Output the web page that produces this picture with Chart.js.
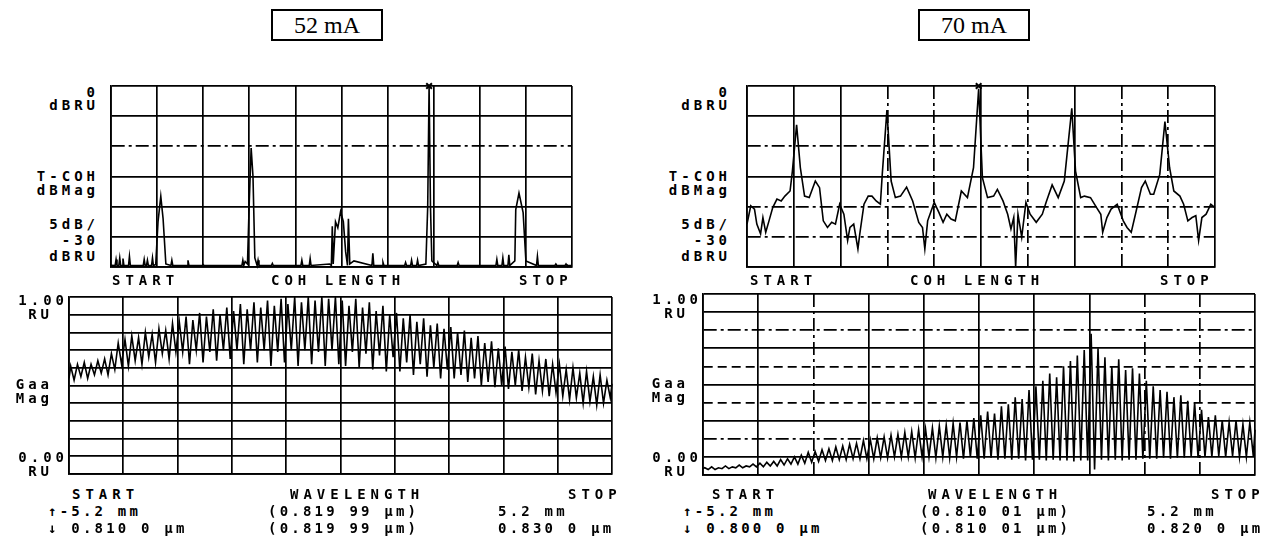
<!DOCTYPE html>
<html lang="en">
<head>
<meta charset="UTF-8">
<title>Coherence length and gain spectra, 52 mA / 70 mA</title>
<script src="https://cdn.jsdelivr.net/npm/chart.js"></script>
<style>
    body { margin: 0; background: #fff; }
    #page { position: relative; width: 1275px; height: 544px; overflow: hidden; color: #000;
            font-family: "DejaVu Sans Mono", monospace; }
    .panel { position: absolute; }
    .t { position: absolute; font-size: 14px; line-height: 14px; letter-spacing: 5px; white-space: pre; font-weight: bold; }
    .s { letter-spacing: 4px; }
    .row { letter-spacing: 3.2px; }
    .title { position: absolute; border: 2px solid #000; font-family: "Liberation Serif", serif;
             font-size: 24px; text-align: center; box-sizing: border-box; }
</style>
</head>
<body>
<div id="page">
    <div class="title" style="left:271px;top:9px;width:112px;height:32px;line-height:28px">52 mA</div>
    <div class="title" style="left:918px;top:9px;width:112px;height:32px;line-height:28px">70 mA</div>

    <!-- 52 mA, coherence -->
    <div class="panel" style="left:103px;top:78px"><canvas id="tl" width="477" height="197"></canvas></div>
    <div class="t s" style="right:1176px;top:85px">0</div>
    <div class="t s" style="right:1176px;top:98px">dBRU</div>
    <div class="t s" style="right:1176px;top:169px">T-COH</div>
    <div class="t s" style="right:1176px;top:183px">dBMag</div>
    <div class="t s" style="right:1176px;top:217px">5dB/</div>
    <div class="t s" style="right:1176px;top:233px">-30</div>
    <div class="t s" style="right:1176px;top:249px">dBRU</div>
    <div class="t" style="left:112px;top:273px">START</div>
    <div class="t" style="left:271px;top:273px">COH LENGTH</div>
    <div class="t" style="left:519px;top:273px">STOP</div>

    <!-- 52 mA, spectrum -->
    <div class="panel" style="left:61px;top:289px"><canvas id="bl" width="559" height="193"></canvas></div>
    <div class="t s" style="right:1207px;top:293px">1.00</div>
    <div class="t s" style="right:1222px;top:307px">RU</div>
    <div class="t s" style="right:1222px;top:377px">Gaa</div>
    <div class="t s" style="right:1222px;top:391px">Mag</div>
    <div class="t s" style="right:1207px;top:450px">0.00</div>
    <div class="t s" style="right:1222px;top:464px">RU</div>
    <div class="t" style="left:72px;top:487px">START</div>
    <div class="t" style="left:290px;top:487px">WAVELENGTH</div>
    <div class="t" style="left:568px;top:487px">STOP</div>
    <div class="t row" style="left:48px;top:504px">↑-5.2 mm</div>
    <div class="t row" style="left:268px;top:504px">(0.819 99 μm)</div>
    <div class="t row" style="left:498px;top:504px">5.2 mm</div>
    <div class="t row" style="left:48px;top:521px">↓ 0.810 0 μm</div>
    <div class="t row" style="left:268px;top:521px">(0.819 99 μm)</div>
    <div class="t row" style="left:498px;top:521px">0.830 0 μm</div>

    <!-- 70 mA, coherence -->
    <div class="panel" style="left:739px;top:78px"><canvas id="tr" width="484" height="197"></canvas></div>
    <div class="t s" style="right:544px;top:85px">0</div>
    <div class="t s" style="right:544px;top:98px">dBRU</div>
    <div class="t s" style="right:544px;top:169px">T-COH</div>
    <div class="t s" style="right:544px;top:183px">dBMag</div>
    <div class="t s" style="right:544px;top:217px">5dB/</div>
    <div class="t s" style="right:544px;top:233px">-30</div>
    <div class="t s" style="right:544px;top:249px">dBRU</div>
    <div class="t" style="left:750px;top:273px">START</div>
    <div class="t" style="left:910px;top:273px">COH LENGTH</div>
    <div class="t" style="left:1160px;top:273px">STOP</div>

    <!-- 70 mA, spectrum -->
    <div class="panel" style="left:695px;top:286px"><canvas id="br" width="568" height="197"></canvas></div>
    <div class="t s" style="right:573px;top:292px">1.00</div>
    <div class="t s" style="right:586px;top:306px">RU</div>
    <div class="t s" style="right:586px;top:376px">Gaa</div>
    <div class="t s" style="right:586px;top:390px">Mag</div>
    <div class="t s" style="right:573px;top:450px">0.00</div>
    <div class="t s" style="right:586px;top:464px">RU</div>
    <div class="t" style="left:712px;top:487px">START</div>
    <div class="t" style="left:928px;top:487px">WAVELENGTH</div>
    <div class="t" style="left:1211px;top:487px">STOP</div>
    <div class="t row" style="left:683px;top:504px">↑-5.2 mm</div>
    <div class="t row" style="left:920px;top:504px">(0.810 01 μm)</div>
    <div class="t row" style="left:1147px;top:504px">5.2 mm</div>
    <div class="t row" style="left:683px;top:521px">↓ 0.800 0 μm</div>
    <div class="t row" style="left:920px;top:521px">(0.810 01 μm)</div>
    <div class="t row" style="left:1147px;top:521px">0.820 0 μm</div>
</div>

<script>
    // all values in screen divisions: x 0..10, y 0..6 (coherence) or 0..10 (spectrum)

    // 52 mA coherence trace
    const tlX = [0, 0.09, 0.11, 0.13, 0.17, 0.19, 0.21, 0.24, 0.26, 0.28, 0.38, 0.40, 0.42, 0.70, 0.72, 0.74, 0.77, 0.79, 0.81,
                 0.88, 0.90, 0.92, 0.97, 1.02, 1.08, 1.13, 1.19, 1.30, 1.32, 1.34, 1.65, 1.67, 1.69, 1.98, 2.00, 2.02,
                 2.84, 2.86, 2.88, 2.91, 2.96, 3.00, 3.04, 3.08, 3.12, 3.17, 3.19, 3.21, 3.48, 3.50, 3.52, 4.12, 4.14, 4.16,
                 4.30, 4.32, 4.34, 4.74, 4.78, 4.80, 4.82, 4.87, 4.92, 4.98, 5.04, 5.09, 5.13, 5.15, 5.18, 5.27,
                 5.66, 5.68, 5.70, 5.88, 5.90, 5.92, 6.37, 6.39, 6.41, 6.50, 6.52, 6.54, 6.63, 6.65, 6.67,
                 6.83, 6.87, 6.90, 6.93, 6.96, 7.07, 7.09, 7.11, 7.51, 7.53, 7.55, 8.35, 8.37, 8.39, 8.48, 8.50, 8.52,
                 8.61, 8.63, 8.65, 8.76, 8.78, 8.85, 8.94, 9.00, 9.23, 9.25, 9.27, 9.63, 9.65, 9.67, 9.85, 9.87, 9.89, 10];
    const tlY = [0.06, 0.05, 0.25, 0.05, 0.05, 0.30, 0.05, 0.05, 0.28, 0.05, 0.05, 0.35, 0.05, 0.05, 0.25, 0.05, 0.05, 0.22, 0.05,
                 0.05, 0.30, 0.05, 0.08, 1.50, 2.34, 1.60, 0.10, 0.05, 0.22, 0.05, 0.05, 0.22, 0.05, 0.05, 0.08, 0.05,
                 0.05, 0.22, 0.05, 0.18, 0.10, 2.20, 3.94, 3.00, 0.30, 0.05, 0.22, 0.05, 0.05, 0.12, 0.05, 0.05, 0.22, 0.05,
                 0.05, 0.28, 0.05, 0.10, 0.05, 1.35, 0.10, 1.50, 1.30, 1.84, 1.50, 0.50, 0.05, 1.60, 0.10, 0.20,
                 0.05, 0.45, 0.05, 0.05, 0.15, 0.05, 0.05, 0.15, 0.05, 0.05, 0.22, 0.05, 0.05, 0.22, 0.05,
                 0.10, 2.00, 6.00, 2.00, 0.20, 0.05, 0.15, 0.05, 0.05, 0.15, 0.05, 0.05, 0.25, 0.05, 0.05, 0.30, 0.05,
                 0.05, 0.40, 0.05, 0.20, 1.90, 2.45, 1.80, 0.20, 0.05, 0.35, 0.05, 0.05, 0.10, 0.05, 0.05, 0.10, 0.05, 0.05];
    const tlMarker = [6.90, 6];

    // 70 mA coherence trace
    const trX = [0.00, 0.08, 0.16, 0.21, 0.29, 0.34, 0.40, 0.47, 0.55, 0.64, 0.73, 0.81, 0.92, 0.97, 1.06, 1.14, 1.23, 1.33,
                 1.46, 1.55, 1.63, 1.72, 1.81, 1.89, 1.98, 2.07, 2.15, 2.20, 2.28, 2.37, 2.41, 2.50, 2.59, 2.67, 2.76,
                 2.85, 2.89, 2.99, 3.08, 3.17, 3.28, 3.41, 3.54, 3.67, 3.75, 3.80, 3.86, 4.00, 4.10, 4.19, 4.27, 4.36,
                 4.45, 4.58, 4.71, 4.84, 4.95, 5.03, 5.14, 5.27, 5.35, 5.47, 5.57, 5.64, 5.70, 5.74, 5.79, 5.87, 5.96,
                 6.05, 6.18, 6.31, 6.39, 6.52, 6.65, 6.78, 6.94, 7.02, 7.13, 7.21, 7.34, 7.47, 7.56, 7.60, 7.69, 7.78,
                 7.91, 8.04, 8.12, 8.21, 8.30, 8.43, 8.51, 8.62, 8.69, 8.82, 8.93, 9.03, 9.12, 9.25, 9.33, 9.42, 9.51,
                 9.59, 9.65, 9.72, 9.81, 9.91, 10.0];
    const trY = [1.42, 2.03, 1.92, 1.42, 1.10, 1.64, 1.15, 1.53, 1.97, 2.25, 2.19, 2.35, 2.52, 3.18, 4.71, 3.29, 2.35, 2.30,
                 2.85, 2.63, 1.53, 1.31, 1.48, 1.42, 2.08, 1.75, 0.88, 1.31, 1.42, 0.60, 1.10, 2.08, 2.35, 2.35, 2.19,
                 2.08, 3.07, 5.20, 2.85, 2.30, 2.35, 2.65, 2.19, 1.48, 1.31, 0.60, 1.53, 2.14, 1.81, 1.48, 1.75, 1.59,
                 1.53, 2.52, 2.30, 3.29, 5.91, 2.96, 2.30, 2.35, 2.57, 2.19, 1.75, 1.26, 1.64, 0.00, 1.75, 0.99, 2.14,
                 1.75, 1.48, 1.75, 2.14, 2.72, 2.30, 2.85, 5.26, 3.18, 2.30, 2.35, 2.30, 1.97, 1.75, 1.15, 1.64, 1.92,
                 2.08, 1.53, 1.31, 1.15, 1.75, 2.63, 2.85, 2.41, 2.41, 3.07, 4.82, 3.29, 2.52, 2.35, 2.08, 1.53, 1.64,
                 1.70, 0.88, 1.64, 1.75, 2.08, 1.97];
    const trMarker = [4.95, 6];

    // 52 mA spectrum: fringe maxima / minima, 8 per division
    const blPeaks = [6.1, 6.2, 6.3, 6.2, 6.4, 6.5, 6.8, 7.4,   7.6, 7.8, 7.7, 8.0, 7.9, 8.2, 8.1, 8.5,
                     8.6, 8.9, 8.7, 9.1, 8.9, 9.3, 9.0, 9.4,   9.2, 9.6, 9.3, 9.7, 9.4, 9.8, 9.5, 9.9,
                     9.6, 10, 9.7, 10, 9.8, 10, 9.9, 10,       9.8, 9.5, 9.9, 9.4, 9.7, 9.2, 9.5, 9.0,
                     9.1, 8.8, 9.0, 8.6, 8.8, 8.4, 8.5, 8.2,   8.3, 8.0, 8.1, 7.7, 7.8, 7.4, 7.5, 7.1,
                     7.2, 6.9, 7.0, 6.6, 6.8, 6.4, 6.5, 6.2,   6.2, 5.9, 6.0, 5.7, 5.8, 5.5, 5.6, 5.3];
    const blTroughs = [5.3, 5.5, 5.4, 5.6, 5.7, 5.6, 5.9, 6.2, 6.1, 6.4, 6.2, 6.6, 6.3, 6.8, 6.5, 6.9,
                       6.9, 6.2, 7.0, 6.3, 6.9, 6.4, 7.0, 6.5, 7.0, 6.2, 7.0, 6.3, 7.0, 6.1, 6.9, 6.3,
                       7.0, 6.1, 7.0, 6.2, 6.9, 6.1, 7.0, 6.2, 6.1, 6.9, 6.0, 6.8, 5.9, 6.7, 5.8, 6.6,
                       5.8, 6.3, 5.6, 6.2, 5.5, 6.0, 5.4, 5.9, 5.4, 5.6, 5.2, 5.4, 5.0, 5.2, 4.9, 5.0,
                       4.8, 5.0, 4.7, 4.9, 4.5, 4.7, 4.4, 4.6, 4.4, 4.2, 4.3, 4.0, 4.1, 3.9, 4.0, 4.3];
    const blEnds = [5.4, 5.1];

    // 70 mA spectrum
    const brPeaks = [0.40, 0.45, 0.40, 0.50, 0.45, 0.55, 0.50, 0.60,  0.65, 0.70, 0.75, 0.85, 0.90, 1.00, 1.10, 1.25,
                     1.30, 1.40, 1.45, 1.55, 1.60, 1.70, 1.75, 1.90,  1.95, 2.05, 2.10, 2.20, 2.25, 2.35, 2.40, 2.50,
                     2.55, 2.60, 2.70, 2.75, 2.85, 2.90, 3.00, 3.15,  3.30, 3.50, 3.40, 3.80, 3.90, 4.30, 4.20, 4.70,
                     4.90, 5.20, 5.60, 5.40, 6.00, 6.30, 6.60, 6.90,  7.80, 7.00, 6.50, 6.00, 6.40, 5.80, 5.90, 5.60,
                     5.20, 4.90, 4.70, 4.60, 4.30, 4.40, 4.10, 4.00,  3.60, 3.20, 3.30, 3.00, 2.90, 3.00, 2.80, 2.90];
    const brTroughs = [0.30, 0.30, 0.35, 0.35, 0.40, 0.40, 0.45, 0.45, 0.45, 0.50, 0.50, 0.55, 0.60, 0.60, 0.65, 0.70,
                       0.75, 0.80, 0.80, 0.85, 0.85, 0.90, 0.90, 0.90, 0.90, 0.95, 0.95, 1.00, 1.00, 1.00, 0.95, 1.00,
                       1.00, 0.95, 1.00, 0.95, 1.00, 0.90, 1.00, 0.90, 0.90, 0.95, 0.85, 0.90, 0.85, 0.90, 0.80, 0.85,
                       0.85, 0.80, 0.85, 0.80, 0.80, 0.75, 0.80, 0.80, 0.30, 0.85, 0.80, 0.85, 0.80, 0.85, 0.85, 0.90,
                       0.90, 0.90, 0.95, 0.90, 0.95, 0.95, 1.00, 0.95, 1.00, 1.00, 1.05, 1.00, 1.05, 1.00, 1.00, 1.05];
    const brEnds = [0.35, 2.5];

    // grid line styles per division line: s solid, dd dash-dot, d dashed
    const tlGridX = ['s','s','s','s','s','s','s','s','s','s','s'];
    const tlGridY = ['s','s','s','s','dd','s','s'];
    const trGridX = ['s','s','s','dd','dd','s','dd','s','dd','dd','s'];
    const trGridY = ['s','dd','dd','s','dd','s','s'];
    const blGridX = ['s','s','s','s','s','s','s','s','s','s','s'];
    const blGridY = ['s','s','s','s','s','s','s','s','s','s','s'];
    const brGridX = ['s','s','dd','s','s','s','s','s','dd','dd','s'];
    const brGridY = ['s','s','dd','s','d','s','d','s','dd','s','s'];

    const dashes = { s: [], dd: [13, 4, 3, 4], d: [9, 5] };

    function pairs(xs, ys) {
        return xs.map((x, i) => ({ x: x, y: ys[i] }));
    }

    function fringes(peaks, troughs, ends) {
        const n = peaks.length;
        const pts = [{ x: 0, y: ends[0] }];
        for (let i = 0; i < n; i++) {
            pts.push({ x: (i + 0.25) * 10 / n, y: peaks[i] });
            pts.push({ x: (i + 0.75) * 10 / n, y: troughs[i] });
        }
        pts.push({ x: 10, y: ends[1] });
        return pts;
    }

    function axis(max, styles) {
        return {
            type: 'linear', min: 0, max: max,
            ticks: { display: false, stepSize: 1, autoSkip: false },
            grid: { color: '#000', lineWidth: 1.7, drawTicks: false },
            border: { display: true, color: '#000', width: 1.7,
                      dash: ctx => (ctx.index === undefined ? [] : dashes[styles[ctx.index]] || []) }
        };
    }

    function panel(id, points, yMax, gridX, gridY, marker) {
        const datasets = [{
            data: points, borderColor: '#000', borderWidth: 1.6,
            pointRadius: 0, tension: 0, clip: false
        }];
        if (marker) {
            datasets.push({
                type: 'scatter', data: [{ x: marker[0], y: marker[1] }],
                pointStyle: 'crossRot', pointRadius: 4, borderColor: '#000', borderWidth: 2, clip: false
            });
        }
        new Chart(document.getElementById(id), {
            type: 'line',
            data: { datasets: datasets },
            options: {
                responsive: false, animation: false,
                layout: { padding: 8 },
                plugins: { legend: { display: false }, tooltip: { enabled: false } },
                scales: { x: axis(10, gridX), y: axis(yMax, gridY) }
            }
        });
    }

    panel('tl', pairs(tlX, tlY), 6, tlGridX, tlGridY, tlMarker);
    panel('tr', pairs(trX, trY), 6, trGridX, trGridY, trMarker);
    panel('bl', fringes(blPeaks, blTroughs, blEnds), 10, blGridX, blGridY);
    panel('br', fringes(brPeaks, brTroughs, brEnds), 10, brGridX, brGridY);
</script>
</body>
</html>
